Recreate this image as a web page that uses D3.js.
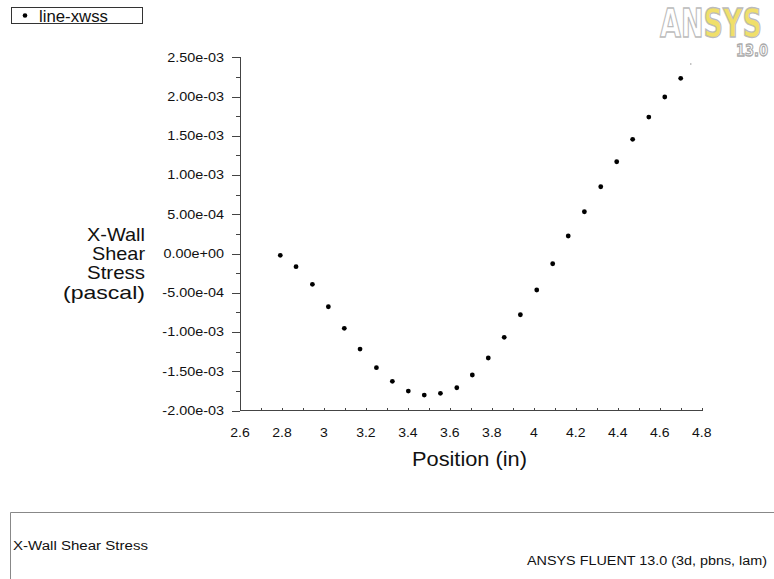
<!DOCTYPE html>
<html><head><meta charset="utf-8">
<script src="https://cdn.jsdelivr.net/npm/d3@7"></script>
<style>html,body{margin:0;padding:0;background:#fff;}svg{display:block;font-family:"Liberation Sans",Arial,sans-serif;}</style>
</head><body>
<svg id="c" width="774" height="579"></svg>
<script>
const seriesName = "line-xwss";
const positions = [2.792,2.867,2.945,3.021,3.097,3.172,3.250,3.326,3.402,3.478,3.555,3.633,3.707,3.783,3.859,3.936,4.014,4.090,4.164,4.241,4.319,4.395,4.471,4.548,4.624,4.700,4.748];
const xwss = [-0.023e-3,-0.168e-3,-0.392e-3,-0.678e-3,-0.953e-3,-1.217e-3,-1.455e-3,-1.628e-3,-1.752e-3,-1.803e-3,-1.781e-3,-1.710e-3,-1.548e-3,-1.331e-3,-1.068e-3,-0.780e-3,-0.465e-3,-0.130e-3,0.223e-3,0.532e-3,0.851e-3,1.169e-3,1.455e-3,1.739e-3,1.994e-3,2.232e-3,2.414e-3];
const xTicks = [2.6,2.8,3.0,3.2,3.4,3.6,3.8,4.0,4.2,4.4,4.6,4.8];
const xTickLabels = ["2.6","2.8","3","3.2","3.4","3.6","3.8","4","4.2","4.4","4.6","4.8"];
const yTicks = [-2.0e-3,-1.5e-3,-1.0e-3,-0.5e-3,0,0.5e-3,1.0e-3,1.5e-3,2.0e-3,2.5e-3];
const yTickLabels = ["-2.00e-03","-1.50e-03","-1.00e-03","-5.00e-04","0.00e+00","5.00e-04","1.00e-03","1.50e-03","2.00e-03","2.50e-03"];
const yTitleLines = ["X-Wall","Shear","Stress","(pascal)"];
const xTitle = "Position (in)";
const footerLeft = "X-Wall Shear Stress";
const footerRight = "ANSYS FLUENT 13.0 (3d, pbns, lam)";

const svg = d3.select("#c");
const x = d3.scaleLinear().domain([2.6,4.8]).range([240,701.7]);
const y = d3.scaleLinear().domain([-2.0e-3,2.5e-3]).range([410.5,57.3]);
const axisColor = "#444";

// minor ticks
const xMinor = d3.range(0,11).map(i => 2.7 + i*0.2);
const yMinor = d3.range(0,9).map(i => -1.75e-3 + i*0.5e-3);

// Y axis
const gy = svg.append("g").attr("transform","translate(240,0)");
gy.call(d3.axisLeft(y).tickValues(yTicks).tickSize(8).tickFormat(""));
gy.append("g").call(d3.axisLeft(y).tickValues(yMinor).tickSize(4).tickFormat("")).select(".domain").remove();
gy.selectAll("path,line").attr("stroke",axisColor).attr("shape-rendering","crispEdges");
gy.select(".domain").attr("d","M0,"+y(2.5e-3)+"V"+y(-2.0e-3));
gy.selectAll(".ylab").data(yTicks).enter().append("text")
  .attr("class","ylab")
  .attr("transform", d => "translate(-16,"+(y(d)+4.3)+") scale(1.2,1)")
  .attr("text-anchor","end").attr("font-size",12).attr("fill","#111")
  .text((d,i) => yTickLabels[i]);

// X axis
const gx = svg.append("g").attr("transform","translate(0,410.5)");
gx.call(d3.axisBottom(x).tickValues(xTicks).tickSize(-3).tickFormat(""));
gx.append("g").call(d3.axisBottom(x).tickValues(xMinor).tickSize(-3).tickFormat("")).select(".domain").remove();
gx.selectAll("path,line").attr("stroke",axisColor).attr("shape-rendering","crispEdges");
gx.select(".domain").attr("d","M"+x(2.6)+",0H"+x(4.8));
gx.selectAll(".xlab").data(xTicks).enter().append("text")
  .attr("class","xlab")
  .attr("transform", d => "translate("+x(d)+",26) scale(1.08,1)")
  .attr("text-anchor","middle").attr("font-size",13).attr("fill","#111")
  .text((d,i) => xTickLabels[i]);

// Titles
const yTitleLens = [58,53,58,82];
svg.append("g").selectAll("text").data(yTitleLines).enter().append("text")
  .attr("x", (d,i)=>145 - yTitleLens[i]).attr("y",(d,i)=>241 + i*19.2)
  .attr("font-size",18.5).attr("fill","#111")
  .attr("textLength",(d,i)=>yTitleLens[i]).attr("lengthAdjust","spacingAndGlyphs")
  .text(d=>d);
svg.append("text").attr("x",412).attr("y",466).attr("font-size",20.5).attr("fill","#111")
  .attr("textLength",115).attr("lengthAdjust","spacingAndGlyphs").text(xTitle);

// Data points
const pts = positions.map((p,i)=>({x:p,y:xwss[i],last:i===positions.length-1}));
svg.append("g").selectAll("circle").data(pts).enter().append("circle")
  .attr("cx",d=>x(d.x)).attr("cy",d=>y(d.y))
  .attr("r",d=>d.last?0.8:2.4)
  .attr("fill",d=>d.last?"#999":"#000");

// Legend
svg.append("rect").attr("x",11.5).attr("y",7.5).attr("width",131).attr("height",16)
  .attr("fill","#fff").attr("stroke","#333");
svg.append("circle").attr("cx",25).attr("cy",15.5).attr("r",2.3).attr("fill","#000");
svg.append("text").attr("x",39).attr("y",21.5).attr("font-size",16.5).attr("fill","#111")
  .attr("textLength",69).attr("lengthAdjust","spacingAndGlyphs").text(seriesName);

// Logo (single text element, vertically stretched)
const logoG = svg.append("g").attr("transform","translate(660,37) scale(1,1.28)");
const logo = logoG.append("text").attr("x",0).attr("y",0).attr("font-size",30)
  .attr("font-family","'DejaVu Sans Condensed','DejaVu Sans',sans-serif").attr("font-weight","bold")
  .attr("stroke","#bbb").attr("stroke-width",1);
logo.append("tspan").attr("fill","#fff").text("AN");
logo.append("tspan").attr("fill","#f0df6a").text("SYS");
logo.append("tspan").attr("x",108).attr("y",14.5).attr("text-anchor","end")
  .attr("font-size",13).attr("font-family","'DejaVu Sans',sans-serif")
  .attr("fill","#fff").attr("stroke","#aaa").text("13.0");

// Footer
svg.append("path").attr("d","M10.5,579V512.5H774").attr("fill","none").attr("stroke","#888").attr("stroke-width",1);
svg.append("text").attr("x",13).attr("y",550).attr("font-size",12.5).attr("fill","#111")
  .attr("textLength",135).attr("lengthAdjust","spacingAndGlyphs").text(footerLeft);
svg.append("text").attr("x",527).attr("y",565).attr("font-size",12.5).attr("fill","#111")
  .attr("textLength",240).attr("lengthAdjust","spacingAndGlyphs").text(footerRight);
</script>
</body></html>
